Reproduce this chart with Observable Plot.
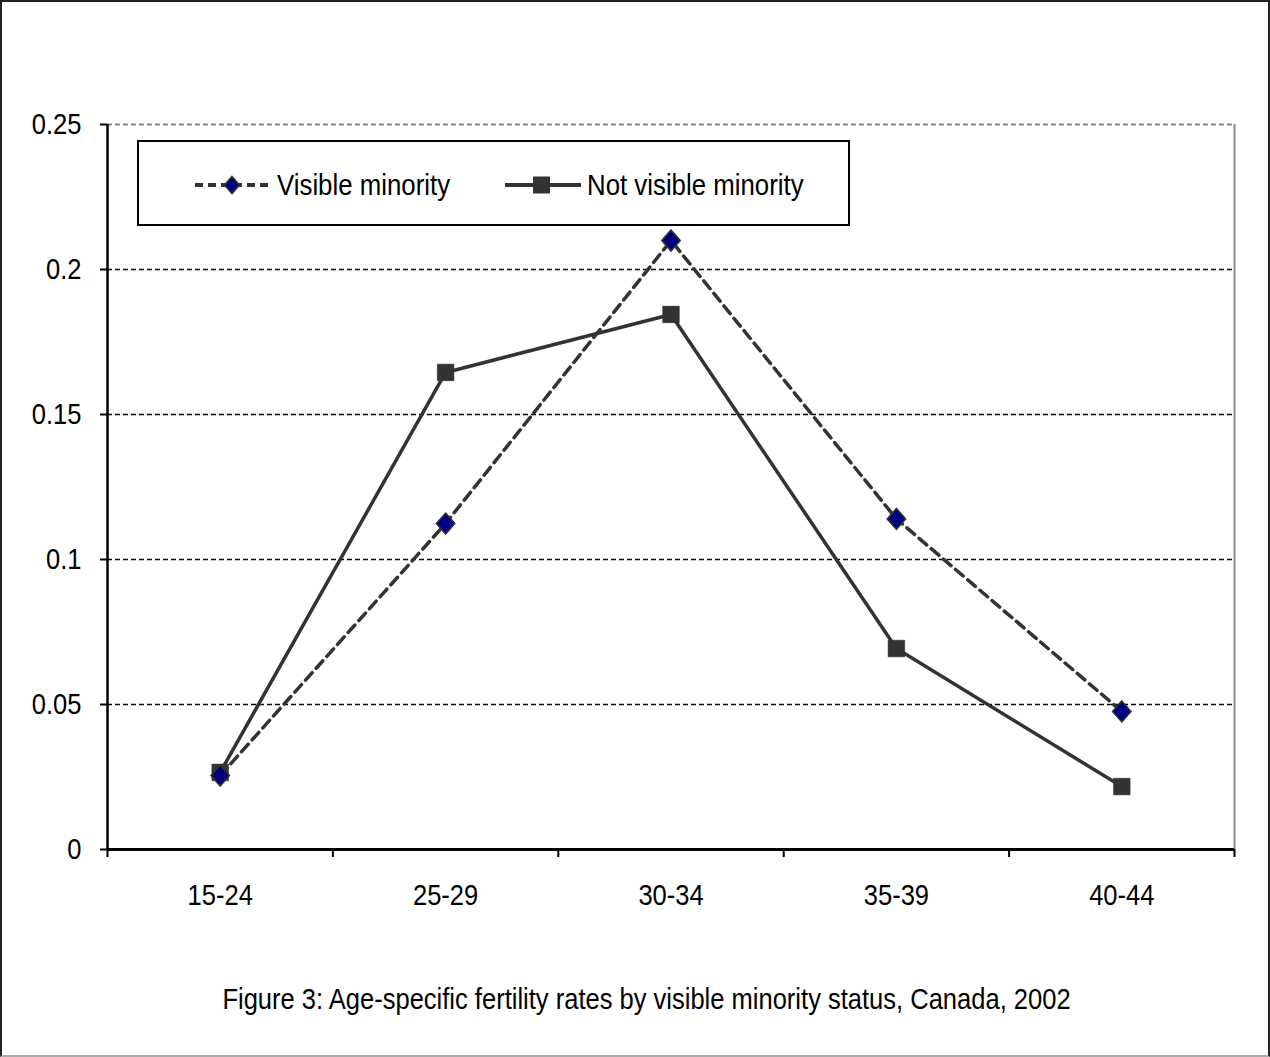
<!DOCTYPE html>
<html>
<head>
<meta charset="utf-8">
<script src="https://cdn.jsdelivr.net/npm/d3@7"></script>
<script src="https://cdn.jsdelivr.net/npm/@observablehq/plot@0.6"></script>
<style>
  html, body { margin: 0; padding: 0; background: #fff; }
  #wrap { position: relative; width: 1270px; height: 1057px; font-family: "Liberation Sans", Arial, sans-serif; color: #000; }
  #frame { position: absolute; left: 0; top: 0; width: 1270px; height: 1057px; box-sizing: border-box;
           border-left: 2px solid #222; border-top: 2px solid #222; border-right: 2px solid #222; border-bottom: 2px solid #aaa; pointer-events: none; }
  #chart { position: absolute; left: 0; top: 0; }
  #legend { position: absolute; left: 137px; top: 140px; width: 713px; height: 86px; box-sizing: border-box;
            border: 2px solid #000; background: #fff; }
  .item { position: absolute; top: 2px; height: 82px; display: flex; align-items: center; font-size: 29px; line-height: 33px; white-space: nowrap; }
  .item svg { margin-right: 6px; flex: none; }
  .item span { display: inline-block; transform: scaleX(0.89); transform-origin: 0 50%; }
  #caption { position: absolute; left: 0; width: 1293px; top: 983px; text-align: center; font-size: 29px; line-height: 33px;
             white-space: nowrap; transform: scaleX(0.88); transform-origin: 50% 50%; }
</style>
</head>
<body>
<div id="wrap">
  <div id="chart"></div>
  <div id="legend"></div>
  <div id="caption"></div>
  <div id="frame"></div>
</div>
<script>
const ageGroups = ["15-24", "25-29", "30-34", "35-39", "40-44"];
const visibleMinority = [0.0255, 0.1124, 0.2100, 0.1140, 0.0476];
const notVisibleMinority = [0.0266, 0.1645, 0.1845, 0.0693, 0.0217];
const yTicks = [0, 0.05, 0.1, 0.15, 0.2, 0.25];
const seriesNames = ["Visible minority", "Not visible minority"];
const captionText = "Figure 3: Age-specific fertility rates by visible minority status, Canada, 2002";

const vis = ageGroups.map((a, i) => ({i, age: a, value: visibleMinority[i]}));
const notVis = ageGroups.map((a, i) => ({i, age: a, value: notVisibleMinority[i]}));
const idx = ageGroups.map((_, i) => i);
const bounds = [...idx.map(i => i - 0.5), ageGroups.length - 0.5];

const lineColor = "#333333";

// slightly tall diamond, like the original marker
const tallDiamond = {
  draw(context, size) {
    const s = Math.sqrt(size / Math.PI);
    context.moveTo(0, -s);
    context.lineTo(0.88 * s, 0);
    context.lineTo(0, s);
    context.lineTo(-0.88 * s, 0);
    context.closePath();
  }
};

const plot = Plot.plot({
  width: 1270,
  height: 940,
  marginLeft: 107,
  marginRight: 36,
  marginTop: 124,
  marginBottom: 91,
  style: {fontFamily: "'Liberation Sans', Arial, sans-serif", fontSize: "29px", color: "#000", background: "transparent"},
  x: {type: "linear", domain: [-0.5, ageGroups.length - 0.5]},
  y: {domain: [0, 0.25]},
  marks: [
    Plot.ruleY(yTicks.filter(t => t > 0 && t < 0.25), {stroke: "#000", strokeWidth: 1.5, strokeDasharray: "5,3"}),
    Plot.ruleY([0.25], {stroke: "#888", strokeWidth: 2, strokeDasharray: "5,3"}),
    Plot.ruleX([ageGroups.length - 0.5], {stroke: "#888", strokeWidth: 2}),
    Plot.axisY({ticks: yTicks, tickSize: 7, tickPadding: 19, tickFormat: d => String(d), stroke: "#000", strokeWidth: 2, label: null}),
    Plot.axisX({ticks: bounds, tickSize: 8, tickFormat: () => "", stroke: "#000", strokeWidth: 2, label: null}),
    Plot.axisX({ticks: idx, tickSize: 0, tickPadding: 35, tickFormat: i => ageGroups[i], label: null}),
    Plot.ruleX([-0.5], {stroke: "#000", strokeWidth: 2.5}),
    Plot.ruleY([0], {stroke: "#000", strokeWidth: 3}),
    Plot.line(vis, {x: "i", y: "value", stroke: lineColor, strokeWidth: 3.5, strokeDasharray: "10,6"}),
    Plot.line(notVis, {x: "i", y: "value", stroke: lineColor, strokeWidth: 3.5}),
    Plot.dot(notVis, {x: "i", y: "value", symbol: "square", r: 9.4, fill: lineColor, stroke: lineColor, strokeWidth: 0.5}),
    Plot.dot(vis, {x: "i", y: "value", symbol: tallDiamond, r: 10.5, fill: "#000080", stroke: "#333", strokeWidth: 1.5})
  ]
});
// horizontally condensed tick labels, as in the original
plot.querySelectorAll("text").forEach(t => {
  const tr = t.getAttribute("transform");
  if (tr) t.setAttribute("transform", tr + " scale(0.88,1)");
});
document.getElementById("chart").appendChild(plot);

// legend
const legend = document.getElementById("legend");
function swatch(kind) {
  const ns = "http://www.w3.org/2000/svg";
  const s = document.createElementNS(ns, "svg");
  s.setAttribute("width", 76); s.setAttribute("height", 24);
  const l = document.createElementNS(ns, "line");
  l.setAttribute("x1", 0); l.setAttribute("x2", 76); l.setAttribute("y1", 12); l.setAttribute("y2", 12);
  l.setAttribute("stroke", lineColor); l.setAttribute("stroke-width", 4);
  if (kind === 0) l.setAttribute("stroke-dasharray", "8,5");
  s.appendChild(l);
  if (kind === 0) {
    const p = document.createElementNS(ns, "path");
    p.setAttribute("d", "M37,3.5 L44.5,12 L37,20.5 L29.5,12 Z");
    p.setAttribute("fill", "#000080"); p.setAttribute("stroke", "#333"); p.setAttribute("stroke-width", 1.5);
    s.appendChild(p);
  } else {
    const r = document.createElementNS(ns, "rect");
    r.setAttribute("x", 28); r.setAttribute("y", 3.5); r.setAttribute("width", 17); r.setAttribute("height", 17);
    r.setAttribute("fill", lineColor);
    s.appendChild(r);
  }
  return s;
}
[[0, 56], [1, 366]].forEach(([k, left]) => {
  const d = document.createElement("div");
  d.className = "item";
  d.style.left = left + "px";
  d.appendChild(swatch(k));
  const t = document.createElement("span");
  t.textContent = seriesNames[k];
  d.appendChild(t);
  legend.appendChild(d);
});

document.getElementById("caption").textContent = captionText;
</script>
</body>
</html>
